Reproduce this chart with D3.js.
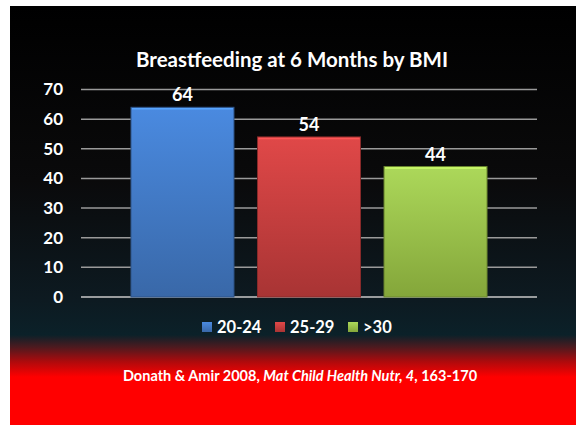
<!DOCTYPE html>
<html>
<head>
<meta charset="utf-8">
<script src="https://cdn.jsdelivr.net/npm/d3@7"></script>
<style>
  body { margin: 0; background: #fff; }
  text { font-family: Lato, "Open Sans", sans-serif; font-weight: bold; fill: #fff; }
</style>
</head>
<body>
<svg id="chart"></svg>
<script>
// data
var series = ["20-24", "25-29", ">30"];
var values = [64, 54, 44];
var yTicks = [0, 10, 20, 30, 40, 50, 60, 70];
var topColors = ["#4a8ae0", "#e04848", "#acd85a"];
var bottomColors = ["#3968a8", "#a83434", "#84a63a"];

var W = 576, H = 425;
var svg = d3.select("#chart").attr("width", W).attr("height", H);
var defs = svg.append("defs");

// slide background
var bg = defs.append("linearGradient").attr("id", "bg")
  .attr("gradientUnits", "userSpaceOnUse")
  .attr("x1", 0).attr("y1", 6).attr("x2", 0).attr("y2", H);
[[6, "#000000"], [180, "#0a0a0b"], [300, "#0d1a21"], [335, "#0b2129"],
 [347, "#4c1a1f"], [362, "#b00a0c"], [377, "#ff0000"], [425, "#ff0000"]]
  .forEach(function(s){
    bg.append("stop").attr("offset", ((s[0] - 6) / (H - 6)).toFixed(4)).attr("stop-color", s[1]);
  });
svg.append("rect").attr("x", 10).attr("y", 6).attr("width", W - 10).attr("height", H - 6)
  .attr("fill", "url(#bg)");

// bar gradients
series.forEach(function(s, i){
  var g = defs.append("linearGradient").attr("id", "bar" + i)
    .attr("x1", 0).attr("y1", 0).attr("x2", 0).attr("y2", 1);
  g.append("stop").attr("offset", 0).attr("stop-color", topColors[i]);
  g.append("stop").attr("offset", 1).attr("stop-color", bottomColors[i]);
});

var margin = { left: 81, right: 537, top: 89.5, bottom: 297 };

var y = d3.scaleLinear().domain([0, 70]).range([margin.bottom, margin.top]);
var x = d3.scaleBand().domain(series).range([margin.left, margin.right])
  .paddingInner(0.186).paddingOuter(0.395);

// title
svg.append("text").attr("x", 292).attr("y", 67).attr("text-anchor", "middle")
  .attr("font-size", 20.5).text("Breastfeeding at 6 Months by BMI");

// y axis labels
var yAxis = d3.axisLeft(y).tickValues(yTicks).tickSize(0).tickPadding(18);
var ga = svg.append("g").attr("transform", "translate(" + margin.left + ",0)").call(yAxis);
ga.select(".domain").remove();
ga.selectAll("text").attr("font-size", 17).attr("fill", "#fff");

// gridlines
svg.append("g").selectAll("line").data(yTicks).enter().append("line")
  .attr("x1", margin.left).attr("x2", margin.right)
  .attr("y1", function(d){ return y(d); }).attr("y2", function(d){ return y(d); })
  .attr("stroke", function(d){ return d === 0 ? "#c8c8c8" : "#9a9a9a"; })
  .attr("stroke-width", 1.5);

// bars
svg.append("g").selectAll("rect").data(values).enter().append("rect")
  .attr("x", function(d, i){ return x(series[i]); })
  .attr("y", function(d){ return y(d); })
  .attr("width", x.bandwidth())
  .attr("height", function(d){ return y(0) - y(d); })
  .attr("fill", function(d, i){ return "url(#bar" + i + ")"; })
  .attr("stroke", function(d, i){ return d3.color(bottomColors[i]).darker(0.6); })
  .attr("stroke-width", 1);

// bar top highlight
svg.append("g").selectAll("line").data(values).enter().append("line")
  .attr("x1", function(d, i){ return x(series[i]) + 1; })
  .attr("x2", function(d, i){ return x(series[i]) + x.bandwidth() - 1; })
  .attr("y1", function(d){ return y(d) + 1.5; })
  .attr("y2", function(d){ return y(d) + 1.5; })
  .attr("stroke", function(d, i){ return d3.color(topColors[i]).brighter(0.5); })
  .attr("stroke-width", 1.5);

// value labels
svg.append("g").selectAll("text").data(values).enter().append("text")
  .attr("x", function(d, i){ return x(series[i]) + x.bandwidth() / 2; })
  .attr("y", function(d){ return y(d) - 6; })
  .attr("text-anchor", "middle").attr("font-size", 18)
  .text(function(d){ return d; });

// legend
var legendX = [202, 275, 348];
var lg = svg.append("g").selectAll("g").data(series).enter().append("g")
  .attr("transform", function(d, i){ return "translate(" + legendX[i] + ",322)"; });
lg.append("rect").attr("width", 10).attr("height", 10)
  .attr("fill", function(d, i){ return "url(#bar" + i + ")"; });
lg.append("text").attr("x", 15).attr("y", 11).attr("font-size", 16.5)
  .text(function(d){ return d; });

// citation
var cite = svg.append("text").attr("x", 300).attr("y", 381).attr("text-anchor", "middle")
  .attr("font-size", 14.5);
cite.append("tspan").text("Donath & Amir 2008, ");
cite.append("tspan").attr("font-style", "italic").text("Mat Child Health Nutr, 4");
cite.append("tspan").text(", 163-170");
</script>
</body>
</html>
